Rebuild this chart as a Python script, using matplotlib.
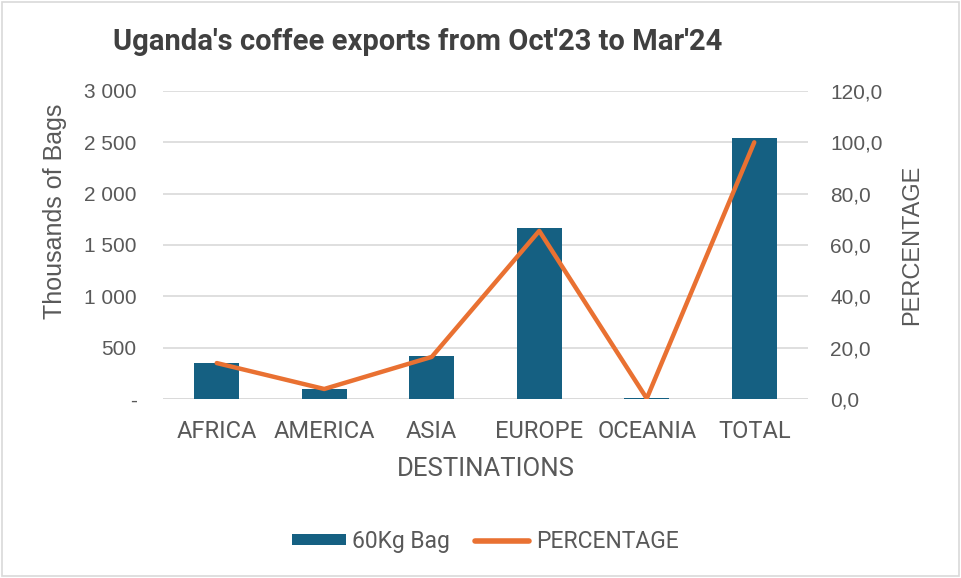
import matplotlib
matplotlib.use("Agg")
import matplotlib.pyplot as plt
from matplotlib import font_manager
from matplotlib.lines import Line2D
from matplotlib.patches import Patch, Rectangle
import numpy as np

# Data
destinations = ["AFRICA", "AMERICA", "ASIA", "EUROPE", "OCEANIA", "TOTAL"]
bags = [355, 100, 418, 1665, 5, 2543]  # thousands of 60Kg bags
percentage = [14.0, 3.9, 16.4, 65.5, 0.2, 100.0]
left_ticks = [0, 500, 1000, 1500, 2000, 2500, 3000]
left_tick_labels = ["-", "500", "1 000", "1 500", "2 000", "2 500", "3 000"]
right_ticks = [0, 20, 40, 60, 80, 100, 120]
right_tick_labels = ["0,0", "20,0", "40,0", "60,0", "80,0", "100,0", "120,0"]

BLUE = "#156082"
ORANGE = "#E97132"
GRID = "#D9D9D9"
TEXT = "#595959"

installed = {f.name for f in font_manager.fontManager.ttflist}
narrow = "Liberation Sans Narrow" if "Liberation Sans Narrow" in installed else "Roboto"
regular = "Liberation Sans"

fig = plt.figure(figsize=(9.61, 5.78), dpi=100)
ax = fig.add_axes([0.1696, 0.3097, 0.6712, 0.5329])
ax2 = ax.twinx()

x = np.arange(len(destinations))
ax.bar(x, bags, width=0.42, color=BLUE, zorder=2)
ax2.plot(x, percentage, color=ORANGE, lw=3.2, solid_capstyle="round",
         solid_joinstyle="round", zorder=3)

ax.set_xlim(-0.5, len(destinations) - 0.5)
ax.set_ylim(0, 3000)
ax2.set_ylim(0, 120)

ax.set_yticks(left_ticks)
ax.set_yticklabels(left_tick_labels, fontsize=15, color=TEXT, family=regular)
ax2.set_yticks(right_ticks)
ax2.set_yticklabels(right_tick_labels, fontsize=15, color=TEXT, family=regular)
ax.set_xticks(x)
ax.set_xticklabels(destinations, fontsize=17, color=TEXT, family=narrow)

ax.yaxis.grid(True, color=GRID, lw=1.2, zorder=0)
ax.set_axisbelow(True)
ax.tick_params(axis="y", length=0, pad=19)
ax.tick_params(axis="x", length=0, pad=15)
ax2.tick_params(length=0, pad=16)
for a in (ax, ax2):
    for s in a.spines.values():
        s.set_visible(False)
ax.axhline(0, color=GRID, lw=1.2, zorder=1)

ax.set_ylabel("Thousands of Bags", fontsize=18, color=TEXT, family=regular)
ax.yaxis.set_label_coords(-0.149, 0.61)
ax2.set_ylabel("PERCENTAGE", fontsize=17, color=TEXT, family=regular,
               rotation=90, labelpad=13)
ax.set_xlabel("DESTINATIONS", fontsize=18.5, color=TEXT, family=narrow, labelpad=10)

fig.text(0.1176, 0.927, "Uganda's coffee exports from Oct'23 to Mar'24",
         fontsize=21, fontweight="bold", color="#404040", family=narrow,
         va="center", ha="left")

handles = [Patch(facecolor=BLUE, label="60Kg Bag"),
           Line2D([0], [0], color=ORANGE, lw=4, solid_capstyle="round",
                  label="PERCENTAGE")]
leg = fig.legend(handles=handles, loc="center", bbox_to_anchor=(0.505, 0.064),
                 ncols=2, frameon=False, handleheight=0.38, handlelength=2.35,
                 handletextpad=0.3, columnspacing=1.1,
                 prop={"family": narrow, "size": 16.5})
for t in leg.get_texts():
    t.set_color(TEXT)

fig.patches.append(Rectangle((0.002, 0.003), 0.996, 0.994, transform=fig.transFigure,
                             fill=False, edgecolor=GRID, lw=1.2))

fig.savefig("out.png", dpi=100)
